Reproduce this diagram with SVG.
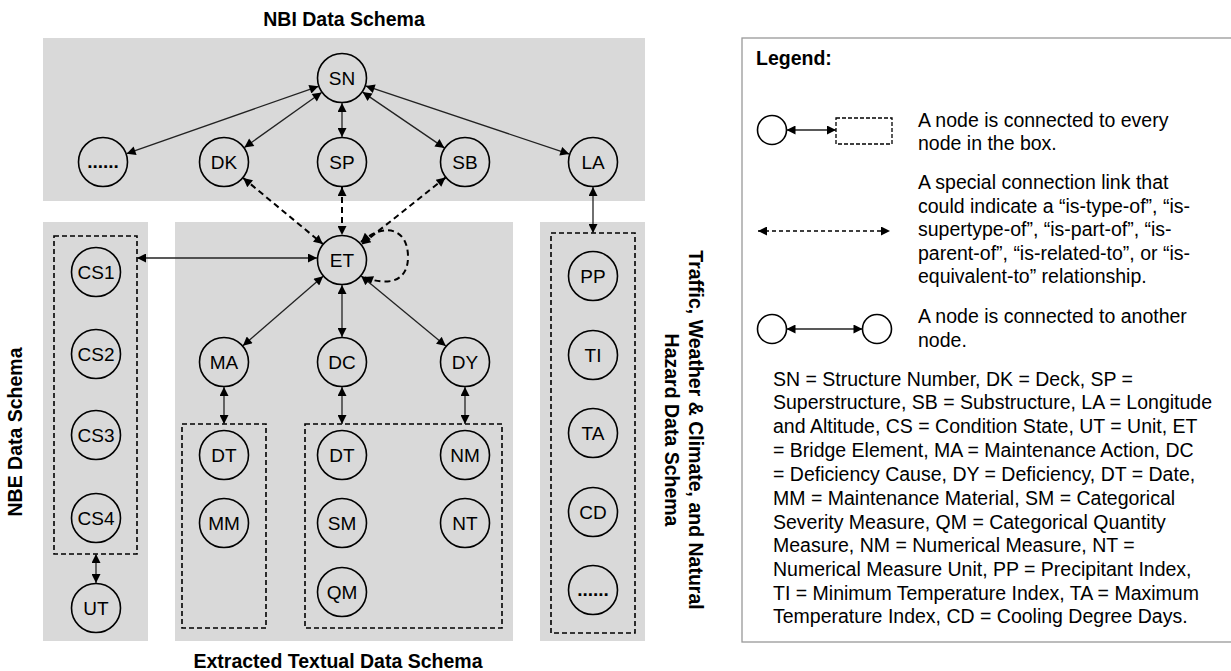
<svg xmlns="http://www.w3.org/2000/svg" width="1231" height="671" viewBox="0 0 1231 671">
<style>
text{font-family:"Liberation Sans",Arial,sans-serif;fill:#000}
.panel{fill:#d9d9d9}
.node circle{fill:none;stroke:#000;stroke-width:1.6}
.node text{font-size:19px;text-anchor:middle}
.node text.dots{font-weight:bold}
.title{font-size:19.5px;font-weight:bold}
.box{fill:none;stroke:#000;stroke-width:1.6;stroke-dasharray:5,3}
.c{fill:none;stroke:#222;stroke-width:1.3;marker-start:url(#a);marker-end:url(#a)}
.d{fill:none;stroke:#000;stroke-width:2;stroke-dasharray:6,4;marker-start:url(#a);marker-end:url(#a)}
.lg{font-size:19.5px}
.lc{fill:#fff;stroke:#000;stroke-width:1.6}
</style>
<defs>
<marker id="a" viewBox="0 0 10 10" refX="10" refY="5" markerWidth="11" markerHeight="9" markerUnits="userSpaceOnUse" orient="auto-start-reverse"><path d="M0,0 L10,5 L0,10 z" fill="#000"/></marker>
</defs>
<rect width="1231" height="671" fill="#fff"/>
<g id="panels">
<rect class="panel" x="43" y="38" width="602" height="163"/>
<rect class="panel" x="43" y="222" width="105" height="419"/>
<rect class="panel" x="175" y="222" width="338" height="419"/>
<rect class="panel" x="540" y="222" width="105" height="419"/>
</g>
<g id="titles">
<text class="title" x="344" y="26" text-anchor="middle">NBI Data Schema</text>
<text class="title" x="338" y="668" text-anchor="middle">Extracted Textual Data Schema</text>
<text class="title" transform="translate(22,432) rotate(-90)" text-anchor="middle">NBE Data Schema</text>
<text class="title" transform="translate(689,430) rotate(90)" text-anchor="middle">Traffic, Weather &amp; Climate, and Natural</text>
<text class="title" transform="translate(665,430) rotate(90)" text-anchor="middle">Hazard Data Schema</text>
</g>
<g id="boxes">
<rect class="box" x="54" y="236" width="83" height="318"/>
<rect class="box" x="182" y="424" width="84" height="204"/>
<rect class="box" x="305" y="424" width="197" height="204"/>
<rect class="box" x="551" y="233" width="84" height="400"/>
</g>
<g id="connectors">
<line class="c" x1="318.4" y1="86.3" x2="126.6" y2="153.7"/>
<line class="c" x1="321.6" y1="92.5" x2="244.4" y2="147.5"/>
<line class="c" x1="342" y1="103" x2="342" y2="137"/>
<line class="c" x1="362.6" y1="92.1" x2="444.4" y2="147.9"/>
<line class="c" x1="365.7" y1="85.9" x2="569.3" y2="154.1"/>
<line class="d" x1="243.2" y1="178" x2="322.8" y2="244"/>
<line class="d" x1="342" y1="187" x2="342" y2="235"/>
<line class="d" x1="445.5" y1="177.6" x2="361.5" y2="244.4"/>
<path class="d" d="M361,242 C384,222 408,228 408,257 C408,283 386,286 364,277"/>
<line class="c" x1="137" y1="258" x2="317" y2="258"/>
<line class="c" x1="323.1" y1="276.3" x2="242.9" y2="345.7"/>
<line class="c" x1="342" y1="285" x2="342" y2="337"/>
<line class="c" x1="361.2" y1="276" x2="445.8" y2="346"/>
<line class="c" x1="224" y1="387" x2="224" y2="424"/>
<line class="c" x1="342" y1="387" x2="342" y2="424"/>
<line class="c" x1="465" y1="387" x2="465" y2="424"/>
<line class="c" x1="96" y1="554" x2="96" y2="583"/>
<line class="c" x1="593" y1="187" x2="593" y2="233"/>
</g>
<g id="SN" class="node"><circle cx="342" cy="78" r="24.5"/><text x="342" y="85">SN</text></g>
<g id="NBI-more" class="node"><circle cx="103" cy="162" r="24.5"/><text class="dots" x="103" y="168">......</text></g>
<g id="DK" class="node"><circle cx="224" cy="162" r="24.5"/><text x="224" y="169">DK</text></g>
<g id="SP" class="node"><circle cx="342" cy="162" r="24.5"/><text x="342" y="169">SP</text></g>
<g id="SB" class="node"><circle cx="465" cy="162" r="24.5"/><text x="465" y="169">SB</text></g>
<g id="LA" class="node"><circle cx="593" cy="162" r="24.5"/><text x="593" y="169">LA</text></g>
<g id="ET" class="node"><circle cx="342" cy="260" r="24.5"/><text x="342" y="267">ET</text></g>
<g id="CS1" class="node"><circle cx="96" cy="272" r="24.5"/><text x="96" y="279">CS1</text></g>
<g id="CS2" class="node"><circle cx="96" cy="354" r="24.5"/><text x="96" y="361">CS2</text></g>
<g id="CS3" class="node"><circle cx="96" cy="435" r="24.5"/><text x="96" y="442">CS3</text></g>
<g id="CS4" class="node"><circle cx="96" cy="518" r="24.5"/><text x="96" y="525">CS4</text></g>
<g id="UT" class="node"><circle cx="96" cy="608" r="24.5"/><text x="96" y="615">UT</text></g>
<g id="MA" class="node"><circle cx="224" cy="362" r="24.5"/><text x="224" y="369">MA</text></g>
<g id="DC" class="node"><circle cx="342" cy="362" r="24.5"/><text x="342" y="369">DC</text></g>
<g id="DY" class="node"><circle cx="465" cy="362" r="24.5"/><text x="465" y="369">DY</text></g>
<g id="DT1" class="node"><circle cx="224" cy="455" r="24.5"/><text x="224" y="462">DT</text></g>
<g id="MM" class="node"><circle cx="224" cy="523" r="24.5"/><text x="224" y="530">MM</text></g>
<g id="DT2" class="node"><circle cx="342" cy="455" r="24.5"/><text x="342" y="462">DT</text></g>
<g id="SM" class="node"><circle cx="342" cy="523" r="24.5"/><text x="342" y="530">SM</text></g>
<g id="QM" class="node"><circle cx="342" cy="592" r="24.5"/><text x="342" y="599">QM</text></g>
<g id="NM" class="node"><circle cx="465" cy="455" r="24.5"/><text x="465" y="462">NM</text></g>
<g id="NT" class="node"><circle cx="465" cy="523" r="24.5"/><text x="465" y="530">NT</text></g>
<g id="PP" class="node"><circle cx="593" cy="276" r="24.5"/><text x="593" y="283">PP</text></g>
<g id="TI" class="node"><circle cx="593" cy="355" r="24.5"/><text x="593" y="362">TI</text></g>
<g id="TA" class="node"><circle cx="593" cy="433" r="24.5"/><text x="593" y="440">TA</text></g>
<g id="CD" class="node"><circle cx="593" cy="512" r="24.5"/><text x="593" y="519">CD</text></g>
<g id="TW-more" class="node"><circle cx="593" cy="590" r="24.5"/><text class="dots" x="593" y="596">......</text></g>
<g id="legend">
<rect x="742" y="38" width="500" height="604" fill="#fff" stroke="#999" stroke-width="1.3"/>
<text class="lg" x="756" y="65" font-weight="bold">Legend:</text>
<circle class="lc" cx="772" cy="130" r="14.5"/>
<line class="c" x1="786.5" y1="130" x2="836" y2="130"/>
<rect x="836" y="118" width="56" height="26" fill="none" stroke="#000" stroke-width="1.3" stroke-dasharray="4,2"/>
<text class="lg" x="918" y="127">A node is connected to every</text>
<text class="lg" x="918" y="150">node in the box.</text>
<line class="d" x1="758" y1="231" x2="890" y2="231" style="stroke-width:1.3;stroke-dasharray:4,3"/>
<text class="lg" x="918" y="189">A special connection link that</text>
<text class="lg" x="918" y="213">could indicate a “is-type-of”, “is-</text>
<text class="lg" x="918" y="236">supertype-of”, “is-part-of”, “is-</text>
<text class="lg" x="918" y="260">parent-of”, “is-related-to”, or “is-</text>
<text class="lg" x="918" y="283">equivalent-to” relationship.</text>
<circle class="lc" cx="772" cy="329" r="14.5"/>
<circle class="lc" cx="877" cy="329" r="14.5"/>
<line class="c" x1="786.5" y1="329" x2="862.5" y2="329"/>
<text class="lg" x="918" y="323">A node is connected to another</text>
<text class="lg" x="918" y="347">node.</text>
<text class="lg" x="773" y="386">SN = Structure Number, DK = Deck, SP =</text>
<text class="lg" x="773" y="409">Superstructure, SB = Substructure, LA = Longitude</text>
<text class="lg" x="773" y="433">and Altitude, CS = Condition State, UT = Unit, ET</text>
<text class="lg" x="773" y="457">= Bridge Element, MA = Maintenance Action, DC</text>
<text class="lg" x="773" y="481">= Deficiency Cause, DY = Deficiency, DT = Date,</text>
<text class="lg" x="773" y="505">MM = Maintenance Material, SM = Categorical</text>
<text class="lg" x="773" y="529">Severity Measure, QM = Categorical Quantity</text>
<text class="lg" x="773" y="552">Measure, NM = Numerical Measure, NT =</text>
<text class="lg" x="773" y="576">Numerical Measure Unit, PP = Precipitant Index,</text>
<text class="lg" x="773" y="600">TI = Minimum Temperature Index, TA = Maximum</text>
<text class="lg" x="773" y="623">Temperature Index, CD = Cooling Degree Days.</text>
</g>
</svg>
